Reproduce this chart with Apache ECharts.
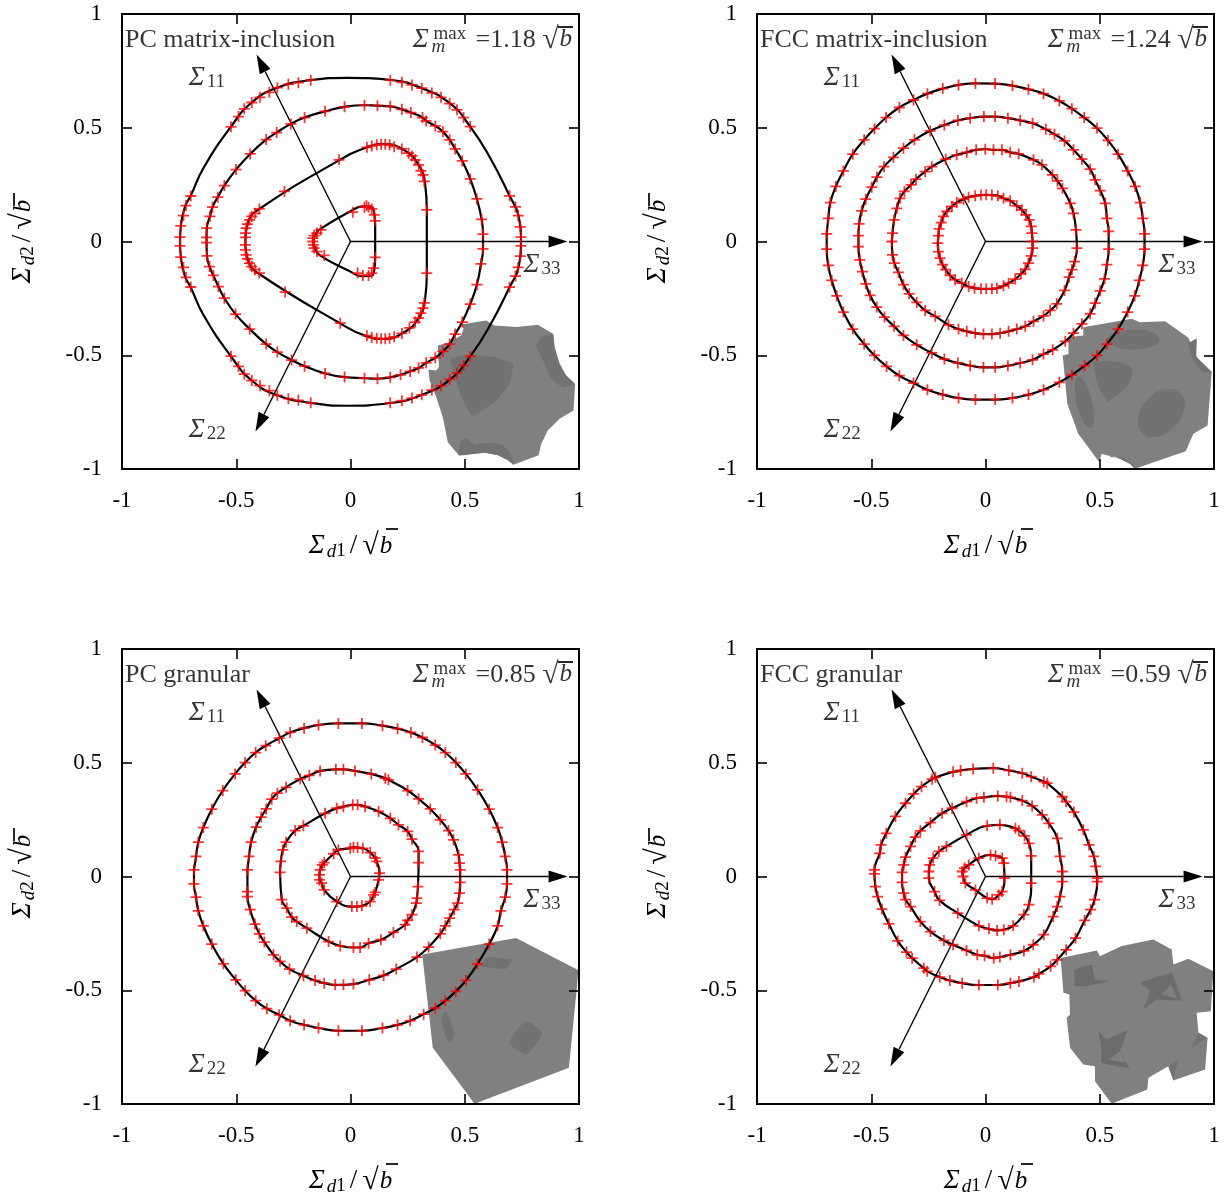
<!DOCTYPE html>
<html><head><meta charset="utf-8">
<style>html,body{margin:0;padding:0;background:#fff}#c{width:1227px;height:1197px}</style>
<script src="https://cdn.jsdelivr.net/npm/echarts@6/dist/echarts.min.js"></script>
</head><body><div id="c"></div>
<script>
const panelTitles=['PC matrix-inclusion','FCC matrix-inclusion','PC granular','FCC granular'];
const maxValues=['=1.18','=1.24','=0.85','=0.59'];
const axisTicks=[-1,-0.5,0,0.5,1];
const arrowTips=[[-.411,.822],[-.416,-.835],[.95,0]];

// Red markers, flat x,y lists, walked clockwise around each contour
const m1a=[-.746,.019,-.743,.069,-.731,.114,-.720,.158,-.699,.200,-.523,.504,-.490,.549,-.465,.583,-.432,.611,-.396,.634,-.355,.656,-.320,.676,-.272,.691,-.228,.698,-.174,.709,.174,.709,.225,.700,.269,.688,.312,.674,.356,.653,.396,.634,.434,.606,.466,.579,.495,.545,.524,.505,.696,.201,.722,.152,.734,.114,.743,.064,.746,.019,.746,-.019,.743,-.064,.734,-.114,.722,-.152,.696,-.201,.524,-.505,.495,-.545,.466,-.579,.434,-.606,.396,-.634,.356,-.653,.312,-.674,.269,-.688,.225,-.700,.174,-.709,-.174,-.709,-.228,-.698,-.272,-.691,-.320,-.676,-.355,-.656,-.396,-.634,-.432,-.611,-.465,-.583,-.490,-.549,-.523,-.504,-.699,-.200,-.720,-.158,-.731,-.114,-.743,-.069,-.746,-.019];
const m1b=[-.63,.018,-.629,.059,-.615,.110,-.604,.151,-.581,.195,-.552,.246,-.501,.316,-.439,.385,-.369,.448,-.323,.479,-.261,.517,-.201,.545,-.111,.572,-.026,.592,.061,.599,.118,.597,.174,.594,.225,.581,.264,.567,.315,.545,.331,.530,.371,.508,.404,.483,.434,.447,.458,.407,.489,.354,.524,.275,.553,.187,.574,.097,.580,.032,.580,-.032,.571,-.098,.553,-.190,.524,-.275,.489,-.354,.458,-.407,.434,-.451,.404,-.483,.371,-.511,.331,-.533,.298,-.556,.261,-.571,.219,-.586,.174,-.597,.118,-.603,.061,-.601,-.026,-.596,-.111,-.580,-.201,-.548,-.258,-.521,-.320,-.486,-.369,-.451,-.441,-.385,-.503,-.319,-.552,-.249,-.578,-.198,-.600,-.149,-.617,-.110,-.628,-.063,-.63,-.005];
const m1c=[-.460,.018,-.460,.037,-.457,.059,-.451,.076,-.442,.095,-.432,.110,-.418,.124,-.399,.143,-.289,.220,-.050,.359,.072,.414,.093,.420,.115,.425,.134,.428,.152,.428,.171,.425,.191,.417,.225,.407,.254,.388,.269,.376,.283,.359,.298,.337,.308,.310,.317,.293,.323,.264,.334,.139,.334,-.139,.323,-.270,.317,-.293,.308,-.315,.298,-.337,.283,-.354,.258,-.380,.225,-.404,.191,-.419,.171,-.425,.152,-.428,.134,-.428,.115,-.425,.093,-.422,.072,-.414,-.045,-.359,-.286,-.222,-.399,-.139,-.418,-.124,-.432,-.110,-.442,-.095,-.451,-.076,-.457,-.059,-.460,-.037,-.460,-.015];
const m1d=[-.165,0,-.165,.015,-.159,.026,-.147,.037,-.130,.051,.010,.129,.061,.151,.070,.157,.079,.151,.093,.143,.104,.117,.108,.091,.108,-.070,.101,-.117,.093,-.139,.079,-.149,.054,-.149,.031,-.139,-.115,-.061,-.147,-.044,-.159,-.029,-.162,-.015];

const m2a=[-.695,.034,-.688,.102,-.679,.171,-.655,.242,-.622,.310,-.581,.384,-.531,.447,-.486,.496,-.435,.545,-.377,.589,-.315,.622,-.254,.650,-.187,.672,-.118,.688,-.044,.695,.042,.694,.118,.685,.188,.669,.254,.650,.323,.618,.378,.584,.432,.545,.488,.498,.536,.444,.580,.384,.622,.310,.655,.242,.677,.171,.688,.102,.696,.034,.696,-.034,.688,-.105,.673,-.171,.653,-.239,.622,-.310,.580,-.385,.531,-.451,.488,-.501,.434,-.546,.378,-.586,.323,-.619,.254,-.652,.188,-.673,.118,-.688,.042,-.695,-.044,-.695,-.118,-.688,-.187,-.673,-.254,-.652,-.315,-.622,-.377,-.590,-.433,-.549,-.486,-.501,-.531,-.451,-.581,-.385,-.622,-.310,-.651,-.239,-.673,-.171,-.688,-.105,-.695,-.034];
const m2b=[-.556,.026,-.553,.078,-.542,.135,-.524,.186,-.498,.239,-.475,.283,-.444,.329,-.403,.370,-.359,.410,-.311,.447,-.242,.486,-.180,.512,-.121,.532,-.067,.542,-.007,.549,.042,.549,.098,.542,.152,.532,.206,.520,.264,.493,.302,.471,.346,.442,.385,.403,.422,.362,.458,.318,.480,.271,.502,.224,.524,.168,.531,.102,.539,.044,.539,-.034,.531,-.102,.521,-.164,.502,-.217,.480,-.271,.458,-.318,.422,-.362,.385,-.403,.349,-.439,.294,-.476,.254,-.495,.206,-.520,.152,-.534,.098,-.546,.042,-.553,-.009,-.553,-.067,-.546,-.121,-.534,-.180,-.517,-.235,-.490,-.301,-.454,-.359,-.413,-.400,-.373,-.442,-.332,-.476,-.288,-.505,-.237,-.524,-.186,-.539,-.132,-.550,-.081,-.556,-.022];
const m2c=[-.41,0,-.407,.037,-.400,.095,-.388,.146,-.374,.190,-.355,.220,-.326,.249,-.304,.274,-.264,.307,-.235,.329,-.174,.362,-.126,.381,-.082,.392,-.041,.403,-.001,.406,.035,.403,.072,.403,.108,.392,.145,.385,.210,.359,.247,.337,.293,.293,.315,.266,.337,.234,.371,.168,.385,.124,.396,.051,.400,-.029,.390,-.088,.378,-.124,.366,-.157,.346,-.215,.312,-.274,.283,-.303,.254,-.327,.210,-.351,.174,-.373,.137,-.385,.101,-.395,.064,-.403,.028,-.407,-.009,-.407,-.045,-.403,-.082,-.395,-.118,-.385,-.162,-.366,-.220,-.329,-.264,-.303,-.301,-.268,-.334,-.230,-.359,-.190,-.381,-.136,-.399,-.095,-.407,-.059];
const m2d=[-.209,-.007,-.206,.026,-.203,.056,-.194,.083,-.184,.110,-.169,.132,-.147,.154,-.126,.171,-.096,.186,-.074,.195,-.045,.201,-.020,.204,.003,.205,.028,.204,.054,.201,.079,.190,.108,.179,.137,.157,.159,.139,.177,.117,.191,.095,.200,.066,.203,.037,.206,0,.206,-.029,.200,-.063,.188,-.095,.174,-.122,.155,-.142,.130,-.165,.101,-.183,.079,-.195,.050,-.205,.028,-.208,.003,-.208,-.020,-.208,-.048,-.205,-.074,-.198,-.104,-.183,-.133,-.168,-.155,-.149,-.174,-.124,-.188,-.102,-.199,-.073,-.206,-.044];

const m3a=[-.685,.029,-.676,.088,-.666,.151,-.644,.215,-.607,.296,-.559,.378,-.505,.451,-.461,.501,-.415,.545,-.371,.575,-.312,.608,-.264,.633,-.203,.652,-.140,.666,-.053,.673,.050,.673,.140,.663,.206,.650,.264,.633,.315,.611,.371,.578,.415,.545,.461,.501,.505,.451,.556,.381,.607,.296,.644,.215,.664,.151,.677,.088,.685,.029,.685,-.032,.677,-.091,.658,-.151,.644,-.217,.607,-.297,.556,-.384,.505,-.457,.461,-.505,.415,-.546,.371,-.578,.320,-.605,.261,-.634,.206,-.652,.140,-.666,.050,-.678,-.053,-.678,-.140,-.666,-.203,-.652,-.264,-.634,-.312,-.608,-.366,-.581,-.415,-.546,-.461,-.502,-.502,-.454,-.556,-.384,-.607,-.297,-.644,-.217,-.666,-.151,-.676,-.091,-.685,-.032];
const m3b=[-.451,.029,-.444,.088,-.435,.151,-.413,.217,-.391,.261,-.369,.297,-.345,.340,-.320,.366,-.282,.392,-.220,.429,-.180,.444,-.133,.464,-.064,.471,-.031,.471,.020,.464,.091,.451,.152,.432,.166,.425,.250,.378,.298,.341,.349,.297,.393,.249,.429,.202,.451,.161,.473,.095,.477,.059,.480,.029,.480,-.026,.477,-.073,.469,-.117,.454,-.146,.434,-.183,.415,-.217,.393,-.252,.342,-.310,.291,-.354,.200,-.407,.145,-.435,.082,-.454,.013,-.473,-.031,-.476,-.067,-.476,-.115,-.469,-.155,-.457,-.206,-.436,-.267,-.407,-.308,-.373,-.337,-.344,-.377,-.288,-.399,-.252,-.418,-.209,-.439,-.146,-.451,-.088,-.451,-.066];
const m3c=[-.308,.018,-.305,.066,-.296,.117,-.282,.151,-.242,.202,-.206,.223,-.111,.278,-.060,.300,-.031,.307,.010,.315,.031,.315,.064,.307,.123,.286,.174,.256,.210,.227,.250,.198,.269,.164,.298,.110,.298,.061,.295,-.044,.291,-.095,.288,-.117,.269,-.168,.250,-.193,.239,-.212,.188,-.246,.133,-.278,.079,-.293,.042,-.312,.013,-.312,-.045,-.305,-.096,-.286,-.191,-.227,-.235,-.198,-.257,-.179,-.279,-.139,-.301,-.102];
const m3d=[-.136,.007,-.133,.029,-.123,.051,-.115,.061,-.074,.100,-.053,.117,-.001,.124,.013,.129,.031,.127,.054,.124,.086,.105,.108,.081,.115,.066,.127,.015,.123,-.015,.108,-.070,.101,-.081,.086,-.110,.050,-.129,.028,-.132,.006,-.132,-.060,-.110,-.115,-.059,-.126,-.029,-.136,-.015];

const m4a=[-.486,.012,-.486,.029,-.463,.102,-.457,.139,-.434,.190,-.394,.264,-.350,.322,-.314,.363,-.280,.395,-.234,.428,-.219,.436,-.142,.460,-.109,.466,-.054,.473,.034,.476,.102,.466,.161,.454,.200,.439,.255,.417,.270,.410,.336,.351,.353,.329,.387,.283,.428,.205,.453,.139,.474,.088,.482,.044,.489,-.007,.489,-.022,.477,-.102,.460,-.146,.434,-.193,.394,-.271,.353,-.322,.314,-.366,.285,-.395,.234,-.428,.212,-.442,.146,-.461,.109,-.469,.054,-.477,-.029,-.477,-.102,-.469,-.156,-.457,-.200,-.442,-.255,-.417,-.270,-.403,-.321,-.359,-.346,-.332,-.384,-.283,-.423,-.208,-.453,-.143,-.472,-.088,-.482,-.044];
const m4b=[-.365,.018,-.358,.051,-.350,.085,-.328,.132,-.307,.173,-.285,.201,-.241,.237,-.190,.278,-.146,.300,-.083,.329,-.039,.344,-.007,.348,.054,.354,.092,.351,.109,.348,.161,.334,.204,.310,.248,.271,.277,.234,.314,.168,.326,.088,.336,.022,.336,-.022,.326,-.088,.314,-.132,.296,-.176,.255,-.256,.209,-.300,.168,-.327,.109,-.344,.063,-.354,.036,-.359,-.004,-.348,-.036,-.344,-.083,-.325,-.142,-.300,-.182,-.281,-.241,-.242,-.285,-.198,-.328,-.132,-.350,-.102,-.358,-.073,-.365,-.026];
const m4c=[-.248,.022,-.244,.051,-.229,.081,-.204,.110,-.171,.132,-.083,.183,.007,.223,.063,.227,.131,.212,.146,.202,.171,.179,.190,.146,.200,.091,.200,-.029,.190,-.124,.168,-.168,.121,-.217,.080,-.234,.051,-.237,.015,-.230,-.029,-.217,-.121,-.161,-.201,-.105,-.223,-.066,-.248,-.007];
const m4d=[-.102,.022,-.092,.037,-.073,.051,-.029,.081,.022,.095,.044,.091,.073,.081,.080,.059,.083,-.007,.073,-.066,.058,-.081,.029,-.100,.007,-.095,-.044,-.059,-.088,-.029,-.098,0];

// Black contours: where the markers leave long gaps the curve has its own readings
const l1a=[-.746,0,-.742,.073,-.724,.154,-.699,.202,-.644,.322,-.523,.505,-.432,.611,-.320,.676,-.174,.709,-.016,.719,.174,.710,.312,.674,.434,.608,.524,.505,.612,.366,.696,.201,.736,.110,.746,0,.736,-.110,.696,-.201,.612,-.366,.524,-.505,.434,-.608,.312,-.674,.174,-.710,-.016,-.722,-.174,-.709,-.320,-.676,-.432,-.611,-.523,-.505,-.644,-.322,-.699,-.202,-.724,-.154,-.742,-.073];
const l1c=[-.460,0,-.447,.088,-.399,.143,-.06,.351,.072,.414,.145,.428,.232,.403,.298,.337,.327,.249,.334,.139,.334,-.139,.327,-.249,.298,-.337,.232,-.400,.145,-.428,.072,-.417,-.06,-.351,-.399,-.143,-.447,-.088];
const l1d=[-.162,0,-.155,.03,-.135,.053,-.005,.13,.055,.154,.09,.15,.104,.125,.108,.07,.108,-.07,.104,-.125,.09,-.15,.05,-.152,-.005,-.13,-.135,-.06,-.155,-.03];

const markers=[[m1a,m1b,m1c,m1d],[m2a,m2b,m2c,m2d],[m3a,m3b,m3c,m3d],[m4a,m4b,m4c,m4d]];
const curves=[[l1a,m1b,l1c,l1d],[m2a,m2b,m2c,m2d],[m3a,m3b,m3c,m3d],[m4a,m4b,m4c,m4d]];

// Grey unit-cell pictures, flat x,y outlines; first is the body, the others shaded recesses
const inset1=[[.484,-.365,.594,-.347,.630,-.369,.725,-.376,.820,-.366,.886,-.406,.893,-.464,.915,-.537,.944,-.589,.983,-.628,.976,-.743,.915,-.779,.864,-.830,.835,-.889,.823,-.940,.713,-.981,.689,-.962,.645,-.940,.587,-.929,.474,-.940,.426,-.882,.404,-.772,.375,-.684,.346,-.611,.341,-.564,.375,-.567,.387,-.552,.382,-.457,.426,-.445,.484,-.413,.495,-.384],
[.438,-.515,.521,-.498,.623,-.508,.711,-.537,.696,-.625,.638,-.699,.535,-.767,.492,-.699,.455,-.596],
[.813,-.457,.835,-.420,.886,-.406,.893,-.464,.915,-.537,.944,-.589,.983,-.628,.929,-.640,.878,-.603,.849,-.537],
[.474,-.940,.480,-.882,.506,-.864,.543,-.892,.616,-.885,.667,-.896,.703,-.933,.713,-.981,.689,-.962,.645,-.940,.587,-.929]];
const inset2=[[.428,-.377,.640,-.340,.676,-.355,.786,-.350,.888,-.423,.924,-.508,.990,-.574,.972,-.809,.910,-.845,.876,-.922,.654,-.999,.632,-.977,.574,-.948,.508,-.933,.498,-.970,.406,-.845,.358,-.713,.338,-.501,.363,-.494,.363,-.420,.428,-.413],
[.533,-.428,.567,-.403,.647,-.388,.727,-.398,.761,-.431,.727,-.460,.647,-.475,.567,-.460],
[.472,-.530,.589,-.530,.644,-.560,.625,-.633,.535,-.703,.494,-.640],
[.396,-.604,.421,-.599,.457,-.669,.476,-.772,.465,-.819,.428,-.794,.396,-.699],
[.669,-.772,.713,-.691,.800,-.648,.866,-.684,.869,-.743,.815,-.823,.735,-.860,.684,-.838],
[.888,-.450,.924,-.428,.924,-.508,.990,-.574,.953,-.574,.910,-.523],
[.508,-.933,.523,-.933,.552,-.948,.603,-.948,.640,-.977,.654,-.999,.632,-.977,.574,-.948]];
const inset3=[[.314,-.343,.725,-.270,.998,-.412,.956,-.841,.543,-.999,.360,-.753],
[.597,-.353,.710,-.365,.681,-.406,.565,-.394],
[.397,-.621,.418,-.592,.455,-.694,.433,-.731,.411,-.687],
[.766,-.636,.839,-.687,.769,-.782,.696,-.731]];
const inset4=[[.329,-.358,.487,-.325,.501,-.350,.596,-.306,.735,-.277,.815,-.321,.822,-.387,.888,-.362,.997,-.416,.986,-.592,.924,-.599,.932,-.687,.972,-.709,.961,-.848,.822,-.897,.800,-.834,.713,-.885,.708,-.936,.552,-.999,.479,-.900,.479,-.834,.428,-.826,.370,-.753,.355,-.621,.370,-.607,.367,-.519,.341,-.511],
[.389,-.409,.465,-.387,.479,-.453,.538,-.460,.443,-.482,.392,-.482],
[.676,-.467,.815,-.423,.859,-.545,.749,-.541,.691,-.585,.720,-.504],
[.494,-.680,.530,-.716,.621,-.677,.589,-.768,.630,-.844,.508,-.819,.508,-.753],
[.932,-.687,.968,-.709,.902,-.753],
[.800,-.834,.844,-.804,.822,-.892],
[.771,-.519,.810,-.475,.840,-.536],
[.538,-.804,.589,-.768,.611,-.819]];
const insets=[inset1,inset2,inset3,inset4];
const insetCurl=[[0,.12,.12,.12],[0,.5,.12,.3,.5,.12,.12],[0,.05,.2,.2],[0,.05,.05,.05,0,0,0,0]];
const insetTone=[['#808080','#727272','#727272','#727272'],['#808080','#727272','#727272','#727272','#727272','#727272','#727272'],['#808080','#727272','#727272','#727272'],['#808080','#6c6c6c','#6c6c6c','#6c6c6c','#727272','#727272','#808080','#808080']];

const pairs=f=>{const o=[];for(let i=0;i<f.length;i+=2)o.push([f[i],f[i+1]]);return o;};
const FONT='"Liberation Serif",serif';
const plus='path://M4.2 0h1.6v4.2h4.2v1.6h-4.2v4.2h-1.6v-4.2h-4.2v-1.6h4.2z';
const INK='#000';
const rich={
  t:{fontFamily:FONT,fontSize:26,color:INK},
  i:{fontFamily:FONT,fontSize:27,fontStyle:'italic',color:INK,padding:[0,2,0,0]},
  b:{fontFamily:FONT,fontSize:25,fontStyle:'italic',color:INK},
  s:{fontFamily:FONT,fontSize:19,color:INK,verticalAlign:'bottom',padding:[8,0,0,0]},
  si:{fontFamily:FONT,fontSize:19,fontStyle:'italic',color:INK,verticalAlign:'bottom',padding:[8,0,0,0]},
  d:{fontFamily:FONT,fontSize:27,color:INK,padding:[0,3,0,4]},
  q:{fontFamily:FONT,fontSize:30,color:INK,padding:[0,1,0,2]},
  m:{fontFamily:FONT,fontSize:19,color:INK},
  mi:{fontFamily:FONT,fontSize:19,fontStyle:'italic',color:INK}
};
const W=457,H=455,lefts=[122,757,122,757],tops=[14,14,649,649];
const grid=[],xAxis=[],yAxis=[],series=[],graphic=[];
const bar=(x1,y1,x2,y2)=>graphic.push({type:'line',silent:true,z:50,shape:{x1,y1,x2,y2},style:{stroke:'#000',lineWidth:1.7}});

for(let p=0;p<4;p++){
  grid.push({left:lefts[p],top:tops[p],width:W,height:H,show:false});
  const base={min:axisTicks[0],max:axisTicks[4],interval:0.5,gridIndex:p,z:20,splitLine:{show:false},
    axisLine:{show:true,onZero:false,lineStyle:{color:'#000',width:2}},
    axisTick:{show:true,inside:true,length:10,lineStyle:{color:'#000',width:1.6}}};
  const lab=m=>({show:true,margin:m,fontFamily:FONT,fontSize:23,color:INK,hideOverlap:false,showMinLabel:true,showMaxLabel:true,formatter:v=>String(v)});
  xAxis.push(Object.assign({},base,{type:'value',position:'bottom',axisLabel:lab(20),
    name:'{i|Σ}{si|d}{s|1}{d|/}{q|√}{b|b}',nameLocation:'middle',nameGap:62,nameTextStyle:{rich}}));
  xAxis.push(Object.assign({},base,{type:'value',position:'top',axisLabel:{show:false}}));
  yAxis.push(Object.assign({},base,{type:'value',position:'left',axisLabel:lab(20),
    name:'{i|Σ}{si|d}{s|2}{d|/}{q|√}{b|b}',nameLocation:'middle',nameGap:84,nameRotate:90,nameTextStyle:{rich}}));
  yAxis.push(Object.assign({},base,{type:'value',position:'right',axisLabel:{show:false}}));
  const ax={xAxisIndex:p*2,yAxisIndex:p*2};

  // inset drawing
  const polys=insets[p],curl=insetCurl[p],tone=insetTone[p];
  series.push(Object.assign({},ax,{type:'custom',z:1,silent:true,clip:true,coordinateSystem:'cartesian2d',
    data:polys.map((_,i)=>[i]),encode:{x:0,y:0},
    renderItem:(params,api)=>{
      const i=params.dataIndex;
      return {type:'polygon',shape:{points:pairs(polys[i]).map(q=>api.coord(q)),smooth:curl[i]},
        style:{fill:tone[i]}};
    }}));

  // axes arrows
  series.push(Object.assign({},ax,{type:'custom',z:2,silent:true,clip:false,coordinateSystem:'cartesian2d',
    data:arrowTips.map((_,i)=>[i]),encode:{x:0,y:0},
    renderItem:(params,api)=>{
      const o=api.coord([0,0]),t=api.coord(arrowTips[params.dataIndex]);
      const d=Math.hypot(t[0]-o[0],t[1]-o[1]),ux=(t[0]-o[0])/d,uy=(t[1]-o[1])/d,L=19,w=6;
      const bx=t[0]-ux*L,by=t[1]-uy*L;
      return {type:'group',children:[
        {type:'line',shape:{x1:o[0],y1:o[1],x2:bx,y2:by},style:{stroke:'#000',lineWidth:1.4}},
        {type:'polygon',shape:{points:[t,[bx-uy*w,by+ux*w],[bx+uy*w,by-ux*w]]},style:{fill:'#000'}}
      ]};
    }}));

  curves[p].forEach(c=>{
    const d=pairs(c);d.push(d[0]);
    series.push(Object.assign({},ax,{type:'line',z:3,silent:true,data:d,showSymbol:false,smooth:0.5,
      lineStyle:{color:'#000',width:2.2}}));
  });
  markers[p].forEach(c=>{
    series.push(Object.assign({},ax,{type:'scatter',z:4,silent:true,data:pairs(c),symbol:plus,symbolSize:11,
      itemStyle:{color:'#ff0000'}}));
  });

  // text placed in data coordinates
  const lbl=(x,y,text,align)=>({value:[x,y],label:{show:true,position:'inside',formatter:text,align:align||'left',verticalAlign:'middle',rich}});
  series.push(Object.assign({},ax,{type:'scatter',z:6,silent:true,symbolSize:0,label:{show:true,rich},
    data:[
      lbl(-.987,.887,'{t|'+panelTitles[p]+'}'),
      lbl(-.708,.72,'{i|Σ}{s|11}'),
      lbl(-.708,-.83,'{i|Σ}{s|22}'),
      lbl(.757,-.105,'{i|Σ}{s|33}'),
      lbl(.272,.887,'{i|Σ}'),
      lbl(.363,.91,'{m|max}'),
      lbl(.354,.853,'{mi|m}'),
      lbl(.547,.887,'{t|'+maxValues[p]+'}'),
      lbl(.83,.887,'{q|√}{b|b}')
    ]}));

  const dx=lefts[p]-122,dy=tops[p]-14;
  bar(386+dx,529+dy,398+dx,529+dy);
  bar(14+dx,193+dy,14+dx,206+dy);
  bar(558+dx,27+dy,573+dx,27+dy);
}
const chart=echarts.init(document.getElementById('c'),null,{renderer:'canvas'});
chart.setOption({animation:false,backgroundColor:'#fff',grid,xAxis,yAxis,series,graphic});
</script></body></html>
